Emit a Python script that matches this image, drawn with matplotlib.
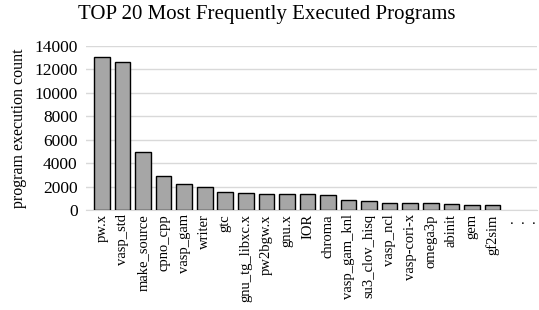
import matplotlib
matplotlib.use("Agg")
import matplotlib.pyplot as plt

programs = ['pw.x', 'vasp_std', 'make_source', 'cpno_cpp', 'vasp_gam', 'writer',
            'gtc', 'gnu_tg_libxc.x', 'pw2bgw.x', 'gnu.x', 'IOR', 'chroma',
            'vasp_gam_knl', 'su3_clov_hisq', 'vasp_ncl', 'vasp-cori-x',
            'omega3p', 'abinit', 'gem', 'gf2sim']
counts = [13050, 12650, 4980, 2870, 2220, 1990, 1510, 1450, 1400, 1350,
          1340, 1290, 850, 740, 630, 600, 590, 540, 430, 430]
yticks = [0, 2000, 4000, 6000, 8000, 10000, 12000, 14000]

plt.rcParams['font.family'] = ['Liberation Serif', 'DejaVu Serif']

fig = plt.figure(figsize=(5.39, 3.10), dpi=100)
ax = fig.add_axes([86/539, 100/310, 451/539, 164/310])

x = list(range(len(programs)))
ax.bar(x, counts, width=0.76, color='#a6a6a6', edgecolor='black', linewidth=1.0, zorder=3)

labels = programs + ['.  .  .']
ax.set_xticks(x + [len(programs) + 0.5])
ax.set_xticklabels(labels, rotation=90, fontsize=10.5)
ax.get_xticklabels()[-1].set_rotation(0)
ax.set_xlim(-0.78, 21.17)
ax.set_ylim(0, 14000)
ax.set_yticks(yticks)
ax.tick_params(axis='y', labelsize=12.5, length=0, pad=6)
ax.tick_params(axis='x', length=0, pad=3)
ax.grid(axis='y', color='#d9d9d9', linewidth=1, zorder=0)
for s in ['top', 'right', 'left']:
    ax.spines[s].set_visible(False)
ax.spines['bottom'].set_color('#d9d9d9')
ax.set_ylabel('program execution count', fontsize=11.5, labelpad=5)
fig.suptitle('TOP 20 Most Frequently Executed Programs', fontsize=15, x=0.495, y=0.985)

fig.savefig('out.png', dpi=100)
